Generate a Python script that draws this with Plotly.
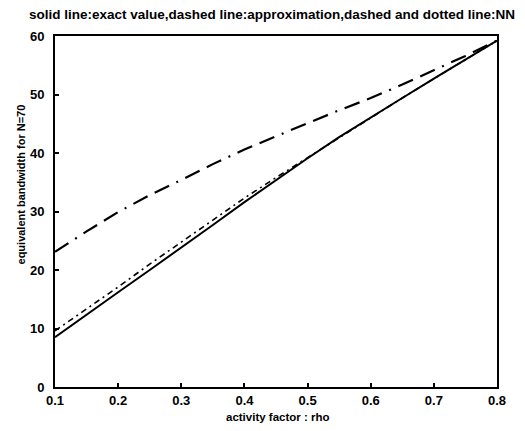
import plotly.graph_objects as go

rho = [0.1, 0.15, 0.2, 0.25, 0.3, 0.35, 0.4, 0.45, 0.5, 0.55, 0.6, 0.65, 0.7, 0.75, 0.8]
exact = [8.5, 12.4, 16.2, 20.0, 23.8, 27.7, 31.6, 35.4, 39.1, 42.7, 46.1, 49.4, 52.7, 55.9, 59.2]
approx = [23.1, 26.6, 29.9, 32.8, 35.4, 38.1, 40.6, 42.9, 45.1, 47.3, 49.4, 51.7, 54.1, 56.6, 59.2]
nn = [9.6, 13.3, 17.1, 21.0, 24.8, 28.6, 32.3, 35.8, 39.2, 42.7, 46.1, 49.4, 52.7, 55.9, 59.2]

xticks = [0.1, 0.2, 0.3, 0.4, 0.5, 0.6, 0.7, 0.8]
xticklabels = ["0.1", "0.2", "0.3", "0.4", "0.5", "0.6", "0.7", "0.8"]
yticks = [0, 10, 20, 30, 40, 50, 60]
yticklabels = ["0", "10", "20", "30", "40", "50", "60"]

title_text = "solid line:exact value,dashed line:approximation,dashed and dotted line:NN"
xlabel = "activity factor : rho"
ylabel = "equivalent bandwidth for N=70"

FONT = "Liberation Sans"

fig = go.Figure()
fig.add_trace(go.Scatter(x=rho, y=exact, mode="lines", name="exact",
                         line=dict(color="black", width=2, dash="solid")))
fig.add_trace(go.Scatter(x=rho, y=approx, mode="lines", name="approximation",
                         line=dict(color="black", width=2.2, dash="16px,8px,2px,8px,16px,8px")))
fig.add_trace(go.Scatter(x=rho, y=nn, mode="lines", name="NN",
                         line=dict(color="black", width=1.6, dash="6px,4px,2px,4px")))

axis_common = dict(showgrid=False, zeroline=False, showline=True, linecolor="black",
                   linewidth=2, mirror=True, ticks="inside", ticklen=4, tickwidth=1.5,
                   tickcolor="black",
                   tickfont=dict(family=FONT, size=13, color="black", weight="bold"))

fig.update_xaxes(range=[0.1, 0.8], tickvals=xticks, ticktext=xticklabels,
                 ticklabelstandoff=0, **axis_common)
fig.update_yaxes(range=[0, 60], tickvals=yticks, ticktext=yticklabels,
                 ticklabelstandoff=6, **axis_common)

fig.update_layout(
    width=525, height=431,
    margin=dict(l=55, r=28, t=36, b=44),
    paper_bgcolor="white", plot_bgcolor="white",
    showlegend=False,
    annotations=[
        dict(text=title_text, xref="paper", yref="paper", x=0.49, y=1.0, yshift=22,
             showarrow=False, xanchor="center", yanchor="middle",
             font=dict(family=FONT, size=13.5, color="black", weight="bold")),
        dict(text=xlabel, xref="paper", yref="paper", x=0.505, y=0, yshift=-30,
             showarrow=False, xanchor="center", yanchor="middle",
             font=dict(family=FONT, size=11.5, color="black", weight="bold")),
        dict(text=ylabel, xref="paper", yref="paper", x=0, xshift=-34, y=0.577,
             showarrow=False, xanchor="center", yanchor="middle", textangle=-90,
             font=dict(family=FONT, size=11, color="black", weight="bold")),
    ],
)

fig.write_html("out.html")
